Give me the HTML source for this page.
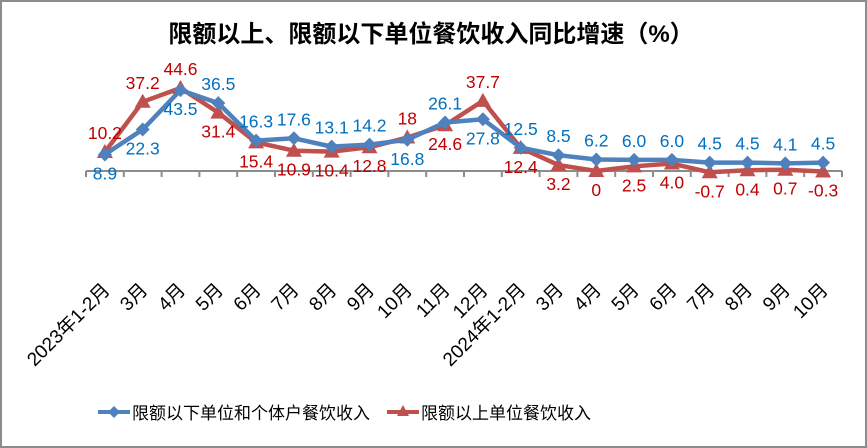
<!DOCTYPE html>
<html><head><meta charset="utf-8"><style>
html,body{margin:0;padding:0;background:#fff}
svg{display:block}
text{font-family:"Liberation Sans","Noto Sans CJK SC",sans-serif}
</style></head><body>
<svg id="chart" width="867" height="448" viewBox="0 0 867 448">
<rect x="1" y="1" width="865" height="446" fill="#fff" stroke="#8c8c8c" stroke-width="2"/>
<text x="431" y="42" text-anchor="middle" font-size="24" font-weight="bold" fill="#000">限额以上、限额以下单位餐饮收入同比增速（%）</text>
<g id="plot"></g>
<g>
<g>
<line x1="98" y1="412" x2="130" y2="412" stroke="#4f81bd" stroke-width="4"/>
<path d="M114 406 L120 412 L114 418 L108 412 Z" fill="#4f81bd"/>
<text x="132" y="419" font-size="17" fill="#000">限额以下单位和个体户餐饮收入</text>
</g>
<g>
<line x1="387" y1="412" x2="419" y2="412" stroke="#c0504d" stroke-width="4"/>
<path d="M403 405 L409 416 L397 416 Z" fill="#c0504d"/>
<text x="421" y="419" font-size="17" fill="#000">限额以上单位餐饮收入</text>
</g>
</g>
</svg>
<script>
const categories=["2023年1-2月","3月","4月","5月","6月","7月","8月","9月","10月","11月","12月","2024年1-2月","3月","4月","5月","6月","7月","8月","9月","10月"];
const belowLimit=[8.9,22.3,43.5,36.5,16.3,17.6,13.1,14.2,16.8,26.1,27.8,12.5,8.5,6.2,6.0,6.0,4.5,4.5,4.1,4.5];
const aboveLimit=[10.2,37.2,44.6,31.4,15.4,10.9,10.4,12.8,18,24.6,37.7,12.4,3.2,0,2.5,4.0,-0.7,0.4,0.7,-0.3];
const belowLabels=["8.9","22.3","43.5","36.5","16.3","17.6","13.1","14.2","16.8","26.1","27.8","12.5","8.5","6.2","6.0","6.0","4.5","4.5","4.1","4.5"];
const aboveLabels=["10.2","37.2","44.6","31.4","15.4","10.9","10.4","12.8","18","24.6","37.7","12.4","3.2","0","2.5","4.0","-0.7","0.4","0.7","-0.3"];
// label side: 1 = above, -1 = below
const belowSide=[-1,-1,-1,1,1,1,1,1,-1,1,-1,1,1,1,1,1,1,1,1,1];
const aboveSide=[1,1,1,-1,-1,-1,-1,-1,1,-1,1,-1,-1,-1,-1,-1,-1,-1,-1,-1];

const NS="http://www.w3.org/2000/svg";
const plot=document.getElementById('plot');
const x0=86,x1=842,zeroY=171,k=1.86;
const step=(x1-x0)/categories.length;
function xs(i){return x0+step*(i+0.5);}
function ys(v){return zeroY-v*k;}
function mk(tag,attrs){const e=document.createElementNS(NS,tag);for(const a in attrs)e.setAttribute(a,attrs[a]);return e;}

const axis=mk('line',{x1:x0,y1:zeroY,x2:x1,y2:zeroY,stroke:'#8c8c8c','stroke-width':2});


plot.appendChild(axis);
for(let i=0;i<=categories.length;i++){
  const t=mk('line',{x1:x0+step*i,y1:zeroY,x2:x0+step*i,y2:zeroY+6,stroke:'#8c8c8c','stroke-width':2});
  
  
  plot.appendChild(t);
}
categories.forEach((c,i)=>{
  const lx=xs(i)+6,ly=291;
  const t=mk('text',{x:lx,y:ly,'text-anchor':'end','font-size':19,fill:'#000',transform:`rotate(-45 ${lx} ${ly})`});
  t.textContent=c;
  
  
  plot.appendChild(t);
});

function series(vals,labels,side,color,labelColor,marker,name){
  const g=mk('g',{});
  
  
  const pts=vals.map((v,i)=>xs(i)+','+ys(v)).join(' ');
  const pl=mk('polyline',{points:pts,fill:'none',stroke:color,'stroke-width':4.5,'stroke-linejoin':'round'});
  
  
  g.appendChild(pl);
  vals.forEach((v,i)=>{
    const cx=xs(i),cy=ys(v);
    let m;
    if(marker==='diamond') m=mk('path',{d:`M${cx} ${cy-7} L${cx+7} ${cy} L${cx} ${cy+7} L${cx-7} ${cy} Z`,fill:color});
    else m=mk('path',{d:`M${cx} ${cy-8} L${cx+8} ${cy+6} L${cx-8} ${cy+6} Z`,fill:color});
    
    
    g.appendChild(m);
  });
  vals.forEach((v,i)=>{
    const cx=xs(i),cy=ys(v);
    const ty=side[i]>0?cy-13:cy+25;
    const t=mk('text',{x:cx,y:ty,'text-anchor':'middle','font-size':17.5,fill:labelColor});
    t.textContent=labels[i];
    
    
    g.appendChild(t);
  });
  plot.appendChild(g);
}
series(aboveLimit,aboveLabels,aboveSide,'#c0504d','#c00000','triangle','series-above-limit');
series(belowLimit,belowLabels,belowSide,'#4f81bd','#0070c0','diamond','series-below-limit');
</script>
</body></html>
